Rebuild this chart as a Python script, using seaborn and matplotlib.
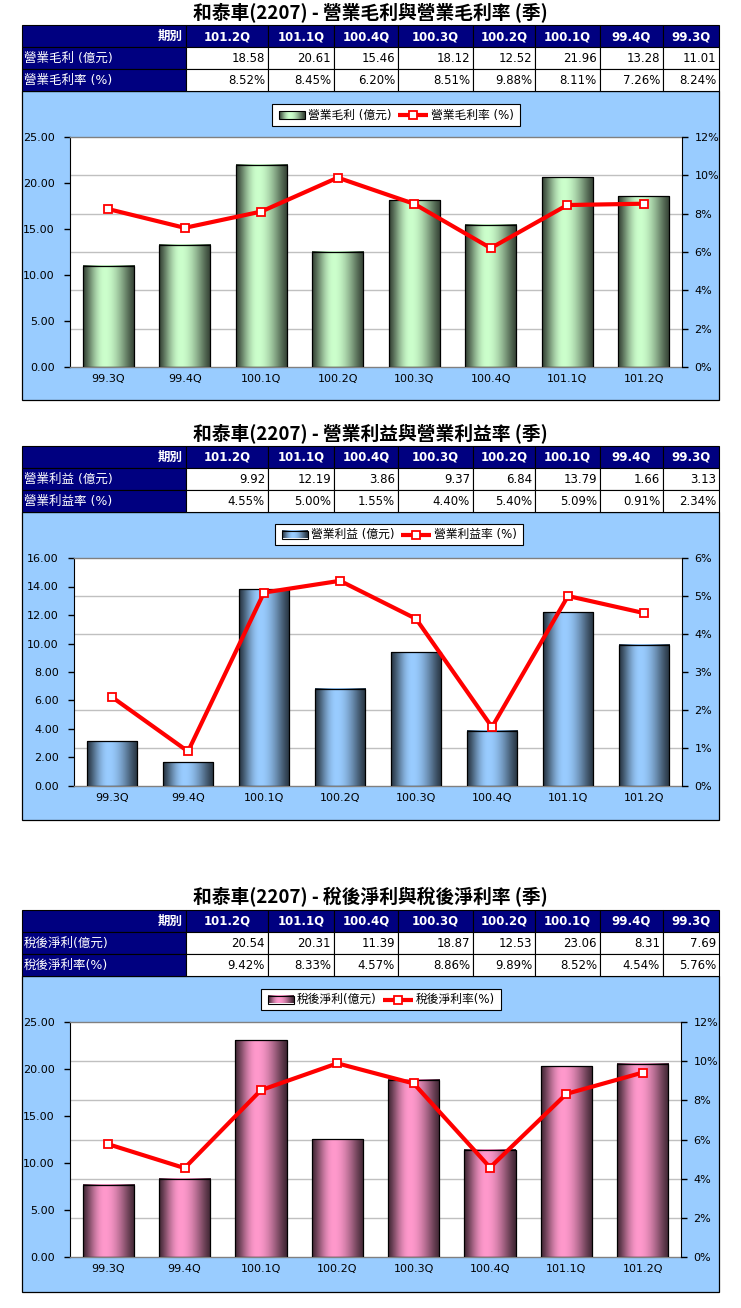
import numpy as np
import pandas as pd
import matplotlib
matplotlib.use("Agg")
import matplotlib.pyplot as plt
import matplotlib.colors as mcolors
from matplotlib.patches import Rectangle
from matplotlib.ticker import FormatStrFormatter, FuncFormatter
import seaborn as sns

plt.rcParams["font.family"] = ["DejaVu Sans", "Noto Sans CJK TC"]

# ---- data (table order: newest first) ----
quarters = ["101.2Q", "101.1Q", "100.4Q", "100.3Q", "100.2Q", "100.1Q", "99.4Q", "99.3Q"]

gross_profit = [18.58, 20.61, 15.46, 18.12, 12.52, 21.96, 13.28, 11.01]
gross_margin = [8.52, 8.45, 6.20, 8.51, 9.88, 8.11, 7.26, 8.24]

op_income = [9.92, 12.19, 3.86, 9.37, 6.84, 13.79, 1.66, 3.13]
op_margin = [4.55, 5.00, 1.55, 4.40, 5.40, 5.09, 0.91, 2.34]

net_income = [20.54, 20.31, 11.39, 18.87, 12.53, 23.06, 8.31, 7.69]
net_margin = [9.42, 8.33, 4.57, 8.86, 9.89, 8.52, 4.54, 5.76]

titles = ["和泰車(2207) - 營業毛利與營業毛利率 (季)",
          "和泰車(2207) - 營業利益與營業利益率 (季)",
          "和泰車(2207) - 稅後淨利與稅後淨利率 (季)"]
bar_labels = ["營業毛利 (億元)", "營業利益 (億元)", "稅後淨利(億元)"]
rate_labels = ["營業毛利率 (%)", "營業利益率 (%)", "稅後淨利率(%)"]

W, H = 741, 1308
NAVY = "#000080"
PANEL_BG = "#99CCFF"
col_edges = [22, 186, 268, 334, 398, 473, 535, 600, 663, 719]

panels = [
    dict(values=gross_profit, rates=gross_margin, color="#CCFFCC",
         title_y=12, table_top=25, chart_bottom=400, plot=(70, 137, 682, 367),
         legend=(104, 126, 396), ymax=25, ystep=5, rmax=12, rstep=2),
    dict(values=op_income, rates=op_margin, color="#99CCFF",
         title_y=433, table_top=446, chart_bottom=820, plot=(74, 558, 682, 786),
         legend=(524, 545, 399), ymax=16, ystep=2, rmax=6, rstep=1),
    dict(values=net_income, rates=net_margin, color="#FF99CC",
         title_y=897, table_top=910, chart_bottom=1292, plot=(70, 1022, 681, 1257),
         legend=(989, 1010, 381), ymax=25, ystep=5, rmax=12, rstep=2),
]

fig = plt.figure(figsize=(W / 100, H / 100), dpi=100)
ov = fig.add_axes([0, 0, 1, 1])
ov.set_xlim(0, W)
ov.set_ylim(H, 0)
ov.axis("off")
ov.set_zorder(0)
renderer = fig.canvas.get_renderer()


def px_axes(l, t, r, b):
    return fig.add_axes([l / W, 1 - b / H, (r - l) / W, (b - t) / H])


def gradient(light, n=256):
    t = np.linspace(0, 1, n)
    p = 0.42
    s = np.where(t < p, t / p, (1 - t) / (1 - p))
    s = np.sin(s * np.pi / 2) ** 1.3
    light = np.array(mcolors.to_rgb(light))
    dark = light * 0.26
    img = dark[None, :] + (light - dark)[None, :] * s[:, None]
    return img[None, :, :]


def text_width(txt, **kw):
    t = ov.text(0, 0, txt, **kw)
    w = t.get_window_extent(renderer).width
    t.remove()
    return w


def draw_legend(ytop, ybot, cx, light, lab1, lab2):
    fs = 8.5
    ym = (ytop + ybot) / 2
    w1 = text_width(lab1, fontsize=fs)
    w2 = text_width(lab2, fontsize=fs)
    total = 7 + 26 + 3 + w1 + 6 + 30 + 3 + w2 + 6
    L = cx - total / 2
    ov.add_patch(Rectangle((L, ytop), total, ybot - ytop, facecolor="white",
                           edgecolor="black", lw=0.8, zorder=3))
    sx = L + 7
    ov.imshow(gradient(light), extent=[sx, sx + 26, ym + 4, ym - 4],
              aspect="auto", zorder=4)
    ov.add_patch(Rectangle((sx, ym - 4), 26, 8, facecolor="none",
                           edgecolor="black", lw=0.8, zorder=5))
    ov.text(sx + 29, ym, lab1, fontsize=fs, va="center", ha="left", zorder=5)
    lx = sx + 29 + w1 + 6
    ov.plot([lx, lx + 30], [ym, ym], color="red", lw=3, zorder=5,
            solid_capstyle="butt")
    ov.plot([lx + 15], [ym], marker="s", ms=6, mfc="white", mec="red",
            mew=1.3, zorder=6)
    ov.text(lx + 33, ym, lab2, fontsize=fs, va="center", ha="left", zorder=5)


for i, pnl in enumerate(panels):
    # title
    ov.text(W / 2, pnl["title_y"], titles[i], ha="center", va="center",
            fontsize=13.5, fontweight="bold", family=["Noto Sans CJK TC"])

    # table
    t0 = pnl["table_top"]
    rows_y = [t0, t0 + 22, t0 + 44, t0 + 66]
    row_vals = [[f"{v:.2f}" for v in pnl["values"]],
                [f"{v:.2f}%" for v in pnl["rates"]]]
    for r in range(3):
        y0, y1 = rows_y[r], rows_y[r + 1]
        for c in range(9):
            x0, x1 = col_edges[c], col_edges[c + 1]
            face = NAVY if (r == 0 or c == 0) else "white"
            ov.add_patch(Rectangle((x0, y0), x1 - x0, y1 - y0, facecolor=face,
                                   edgecolor="black", lw=0.8, zorder=1))
            ym = (y0 + y1) / 2 + 0.5
            if r == 0 and c == 0:
                ov.text(x1 - 3, ym, "期別", ha="right", va="center", color="white",
                        fontsize=9, fontweight="bold", zorder=2)
            elif r == 0:
                ov.text((x0 + x1) / 2, ym, quarters[c - 1], ha="center", va="center",
                        color="white", fontsize=8.5, fontweight="bold", zorder=2)
            elif c == 0:
                lab = bar_labels[i] if r == 1 else rate_labels[i]
                ov.text(x0 + 2, ym, lab, ha="left", va="center", color="white",
                        fontsize=9, zorder=2)
            else:
                ov.text(x1 - 3, ym, row_vals[r - 1][c - 1], ha="right", va="center",
                        color="black", fontsize=8.5, zorder=2)

    # chart panel background
    cb = pnl["chart_bottom"]
    ov.add_patch(Rectangle((22, rows_y[3]), 719 - 22, cb - rows_y[3],
                           facecolor=PANEL_BG, edgecolor="black", lw=0.9, zorder=0))

    ly0, ly1, lcx = pnl["legend"]
    draw_legend(ly0, ly1, lcx, pnl["color"], bar_labels[i], rate_labels[i])

    # chart
    df = pd.DataFrame({"q": quarters[::-1], "v": pnl["values"][::-1],
                       "r": pnl["rates"][::-1]})
    ax = px_axes(*pnl["plot"])
    ax.set_zorder(1)
    sns.barplot(data=df, x="q", y="v", ax=ax, color=pnl["color"], saturation=1,
                width=0.67, edgecolor="black", linewidth=0.9, zorder=3)
    img = gradient(pnl["color"])
    for p in list(ax.patches):
        x0, w, h = p.get_x(), p.get_width(), p.get_height()
        ax.imshow(img, extent=[x0, x0 + w, 0, h], aspect="auto", zorder=2.5)
        p.set_facecolor("none")

    ax.set_xlim(-0.5, len(df) - 0.5)
    ax.set_ylim(0, pnl["ymax"])
    ax.set_yticks(np.arange(0, pnl["ymax"] + 0.01, pnl["ystep"]))
    nr = int(round(pnl["rmax"] / pnl["rstep"]))
    ax.set_yticks(np.linspace(0, pnl["ymax"], nr + 1)[1:-1], minor=True)
    ax.grid(False)
    ax.grid(which="minor", axis="y", color="#C0C0C0", lw=1)
    ax.set_axisbelow(True)
    ax.yaxis.set_major_formatter(FormatStrFormatter("%.2f"))
    ax.tick_params(axis="y", which="major", direction="out", length=4, width=1,
                   labelsize=8, pad=7)
    ax.tick_params(axis="y", which="minor", length=0)
    ax.tick_params(axis="x", length=0, labelsize=8, pad=5)
    ax.set_xlabel("")
    ax.set_ylabel("")
    ax.set_facecolor("white")
    for s in ["top", "bottom"]:
        ax.spines[s].set_color("#808080")
        ax.spines[s].set_linewidth(1)
    ax.spines["left"].set_color("black")
    ax.spines["right"].set_visible(False)

    ax2 = ax.twinx()
    sns.lineplot(data=df, x="q", y="r", ax=ax2, color="red", lw=3, marker="s",
                 ms=6, mfc="white", mec="red", mew=1.3, zorder=5)
    ax2.set_xlim(-0.5, len(df) - 0.5)
    ax2.set_ylim(0, pnl["rmax"])
    ax2.set_yticks(np.arange(0, pnl["rmax"] + 0.01, pnl["rstep"]))
    ax2.yaxis.set_major_formatter(FuncFormatter(lambda v, _: f"{v:.0f}%"))
    ax2.tick_params(axis="y", direction="out", length=4, width=1, labelsize=8, pad=5)
    ax2.set_ylabel("")
    ax2.set_xlabel("")
    for s in ["top", "bottom", "left"]:
        ax2.spines[s].set_visible(False)
    ax2.spines["right"].set_color("black")

fig.savefig("out.png", dpi=100)
